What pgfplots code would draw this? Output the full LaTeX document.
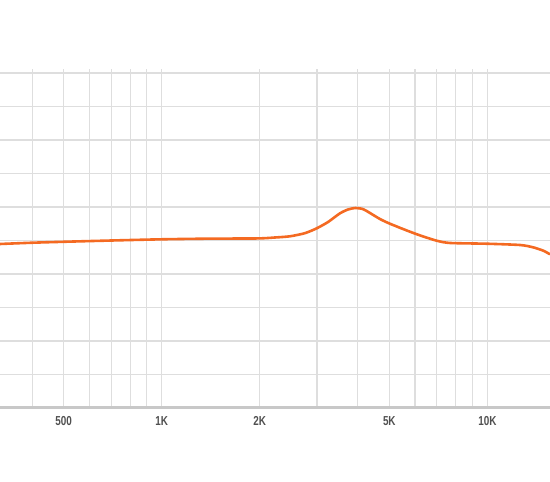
\documentclass[border=0pt]{standalone}
\usepackage{pgfplots}
\pgfplotsset{compat=1.18}
\usepackage{fontspec}
\newfontfamily\tickfont[FakeStretch=0.76]{Liberation Sans}
\definecolor{gridc}{RGB}{222,222,222}
\definecolor{axisc}{RGB}{200,200,200}
\definecolor{curvec}{RGB}{244,106,34}
\definecolor{labc}{RGB}{80,80,80}
\begin{document}
\begin{tikzpicture}
\useasboundingbox (0,-74bp) rectangle (550bp,408bp);
\begin{axis}[
  scale only axis,
  width=550bp, height=339bp,
  xmode=log,
  xmin=318.6, xmax=15580,
  ymin=-25, ymax=25.6,
  xtick={400,500,600,700,800,900,1000,2000,3000,4000,5000,6000,7000,8000,9000,10000},
  xticklabels={,500,,,,,1K,2K,,,5K,,,,,10K},
  ytick={-20,-15,-10,-5,0,5,10,15,20,25},
  yticklabels={},
  major tick length=0pt,
  minor tick num=0,
  grid=major,
  major grid style={draw=gridc, line width=1.2bp},
  axis line style={draw=none},
  xticklabel style={font=\tickfont\bfseries\fontsize{13bp}{15bp}\selectfont, text=labc, anchor=north, yshift=-5bp},
  clip=true,
]
\addplot[curvec, line width=2.6bp, smooth, tension=0.4] coordinates {
(318.6,-0.52) (400,-0.33) (500,-0.19) (700,0.0) (1000,0.18) (1407,0.28)
(1976,0.31) (2228,0.45) (2479,0.63) (2755,1.1) (2993,1.82) (3242,2.76)
(3528,4.06) (3734,4.63) (3925,4.85) (4123,4.73) (4262,4.4) (4683,3.2)
(5026,2.5) (5655,1.5) (6216,0.76) (6992,-0.03) (7684,-0.37) (9958,-0.48)
(12600,-0.67) (13810,-1.01) (14860,-1.52) (15580,-2.06)
};
\draw[axisc, line width=3.5bp, yshift=0.5bp] (rel axis cs:0,0) -- (rel axis cs:1,0);
\end{axis}
\end{tikzpicture}
\end{document}
